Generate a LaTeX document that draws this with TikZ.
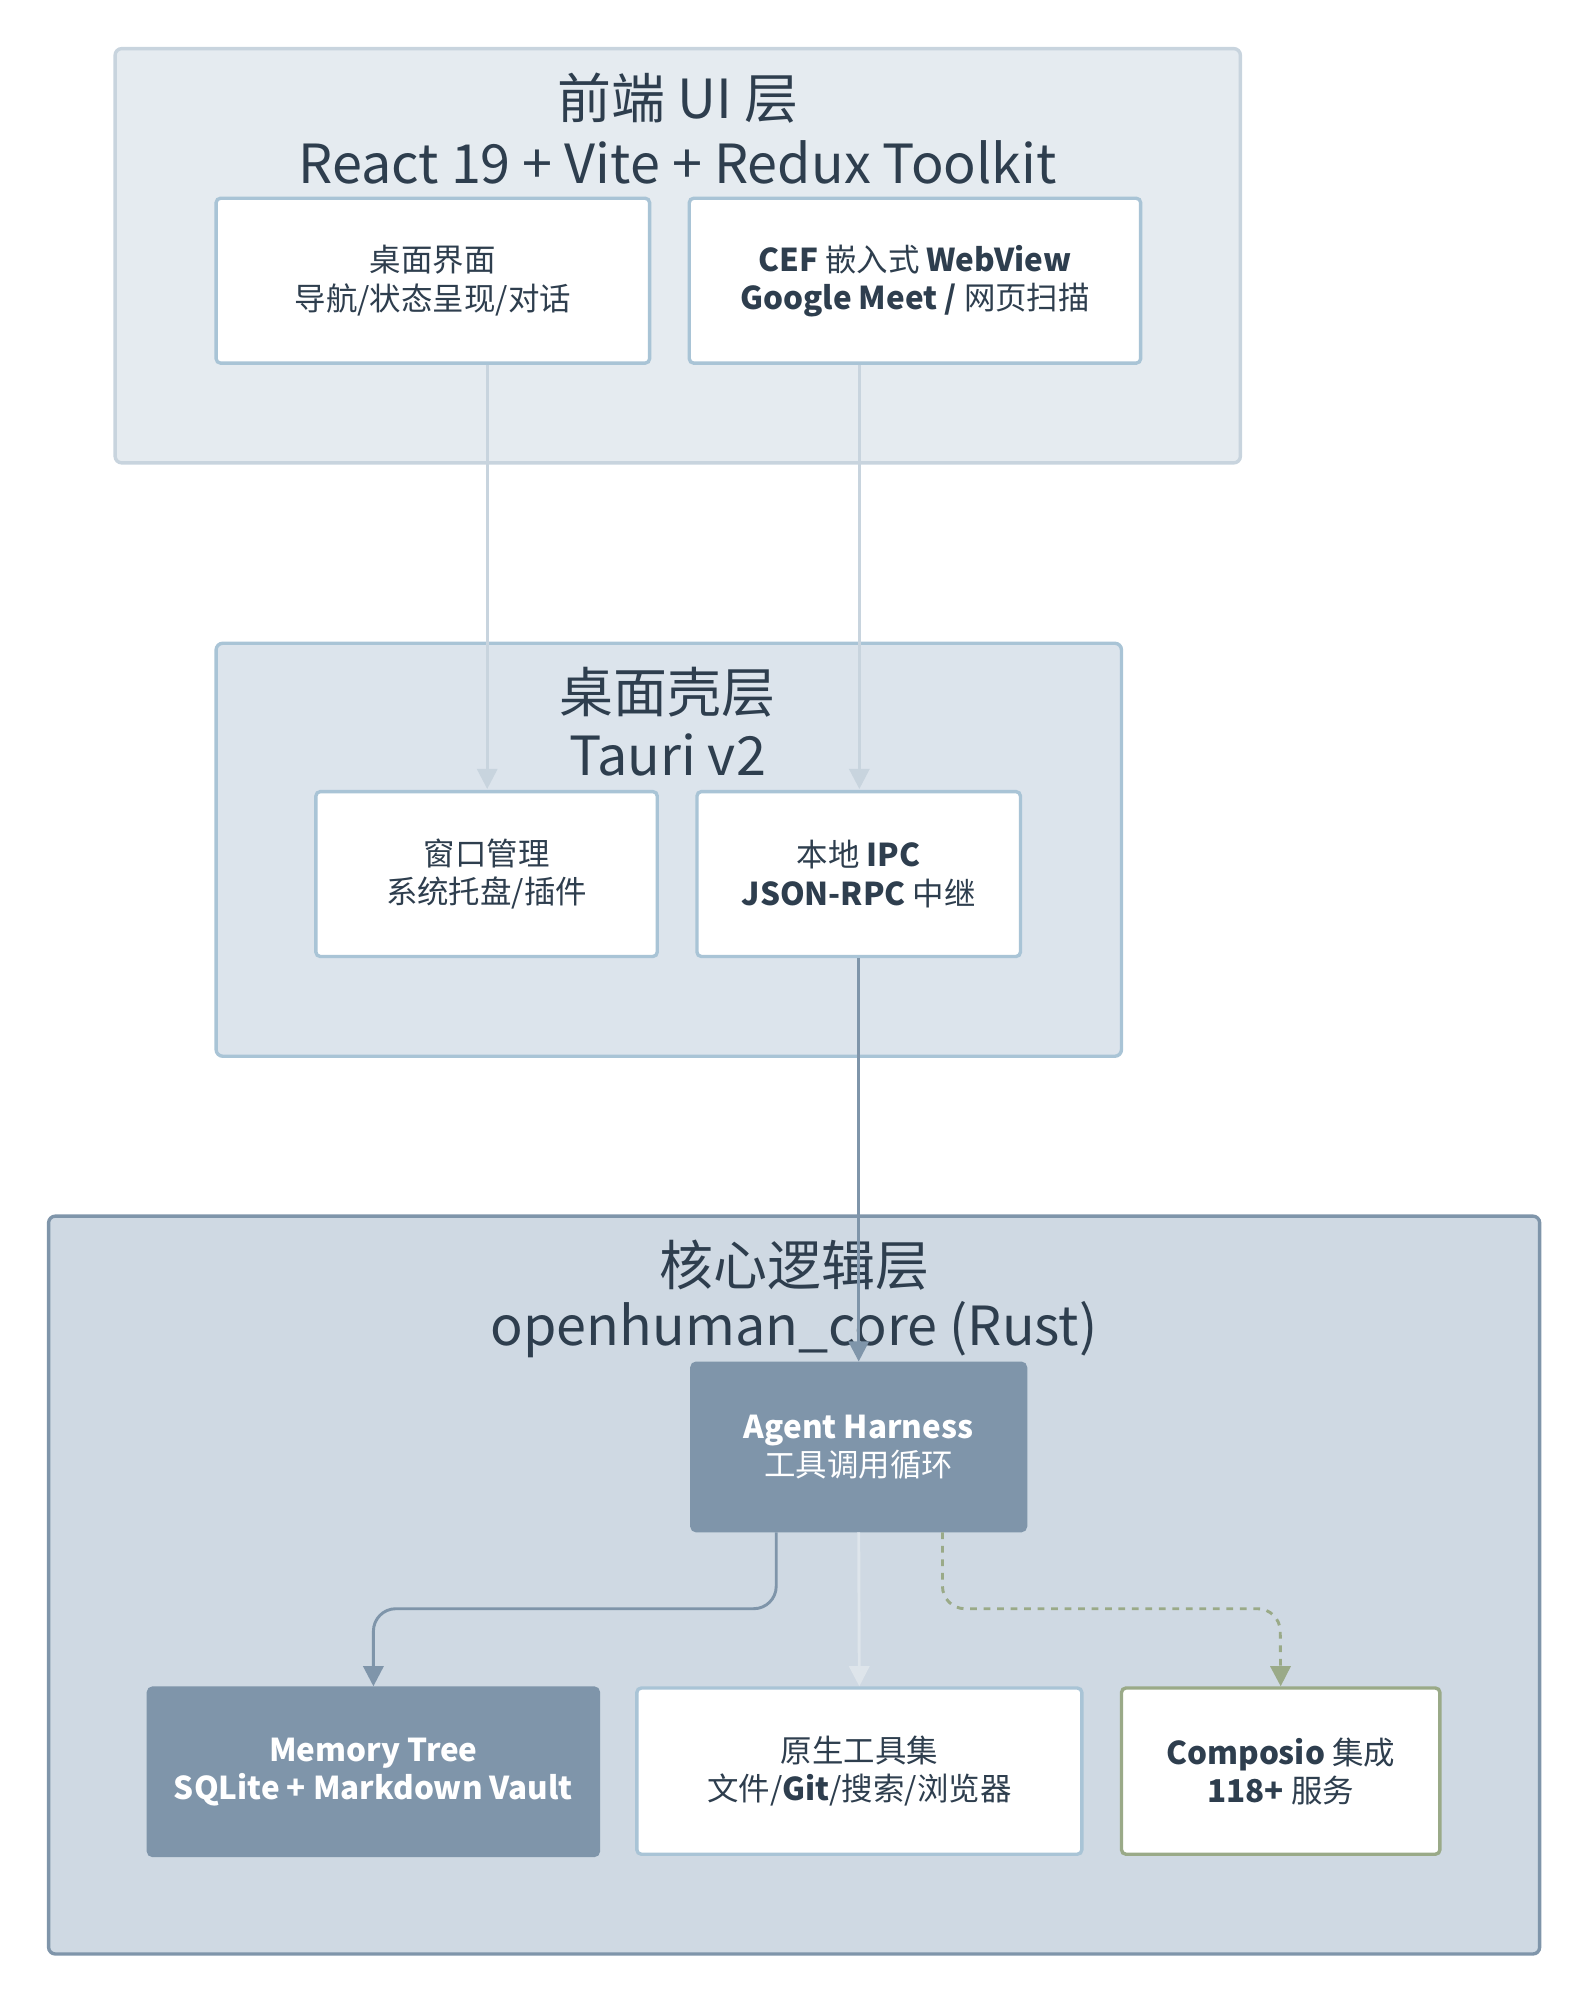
\documentclass[tikz,border=0pt]{standalone}
\usepackage{fontspec}
\setmainfont{Noto Sans CJK SC}
\usetikzlibrary{arrows.meta}
\definecolor{grpa}{HTML}{E5EBF0}
\definecolor{grpb}{HTML}{DCE4EC}
\definecolor{grpc}{HTML}{CFD9E3}
\definecolor{edgel}{HTML}{C8D4DE}
\definecolor{edgem}{HTML}{A9C4D6}
\definecolor{slate}{HTML}{7F95AA}
\definecolor{olive}{HTML}{9AAA88}
\definecolor{ink}{HTML}{2E3E4E}
\tikzset{
  grp/.style={draw, rounded corners=3pt, line width=1.5pt},
  box/.style={draw=edgem, fill=white, line width=1.5pt, rounded corners=2pt, align=center, text=ink, font=\fontsize{14}{17}\selectfont},
  dark/.style={box, draw=slate, fill=slate, text=white, font=\fontsize{14}{17}\selectfont\bfseries},
  ttl/.style={text=ink, font=\fontsize{24}{28}\selectfont},
  link/.style={-{Triangle[length=9pt,width=9pt]}, line width=1.3pt}
}
\begin{document}
\begin{tikzpicture}[x=0.02cm,y=-0.02cm]
\useasboundingbox (0,0) rectangle (1240,1564);
% groups
\draw[grp, draw=edgel, fill=grpa] (90,38) rectangle (970,362);
\draw[grp, draw=edgem, fill=grpb] (169,503) rectangle (877,826);
\draw[grp, draw=slate, fill=grpc] (38,951) rectangle (1204,1528);
\node[ttl] (t1) at (530,77) {前端 UI 层};
\node[ttl] (s1) at (530,127) {React 19 + Vite + Redux Toolkit};
\node[ttl] (t2) at (522,541) {桌面壳层};
\node[ttl] (s2) at (522,590) {Tauri v2};
\node[ttl] (t3) at (621,989) {核心逻辑层};
\node[ttl] (s3) at (621,1040) {openhuman\_core (Rust)};
% nodes
\node[box, minimum width=339*0.02cm, minimum height=129*0.02cm] (ui) at (338.5,219.5) {桌面界面\\导航/状态呈现/对话};
\node[box, minimum width=353*0.02cm, minimum height=129*0.02cm] (cef) at (715.5,219.5) {\textbf{CEF} 嵌入式 \textbf{WebView}\\\textbf{Google Meet /} 网页扫描};
\node[box, minimum width=267*0.02cm, minimum height=129*0.02cm] (win) at (380.5,683.5) {窗口管理\\系统托盘/插件};
\node[box, minimum width=253*0.02cm, minimum height=129*0.02cm] (ipc) at (671.5,683.5) {本地 \textbf{IPC}\\\textbf{JSON-RPC} 中继};
\node[dark, minimum width=261*0.02cm, minimum height=131*0.02cm] (agent) at (671.5,1131.5) {Agent Harness\\\mdseries 工具调用循环};
\node[dark, minimum width=352*0.02cm, minimum height=131*0.02cm] (mem) at (292,1385.5) {Memory Tree\\SQLite + Markdown Vault};
\node[box, minimum width=348*0.02cm, minimum height=130*0.02cm] (tools) at (672,1385) {原生工具集\\文件/\textbf{Git}/搜索/浏览器};
\node[box, draw=olive, minimum width=249*0.02cm, minimum height=130*0.02cm] (comp) at (1001.5,1385) {\textbf{Composio} 集成\\\textbf{118+} 服务};
% connectors
\draw[link, edgel] (ui.south -| 381,0) -- (381,617);
\draw[link, edgel] (cef.south -| 672,0) -- (672,617);
\draw[link, slate] (ipc.south) -- (agent.north);
\draw[link, slate, rounded corners=10pt] (agent.south -| 607,0) -- (607,1258) -- (292,1258) -- (mem.north);
\draw[link, edgel!60] (agent.south) -- (tools.north);
\draw[link, olive, dashed, rounded corners=10pt] (agent.south -| 737,0) -- (737,1258) -- (1001,1258) -- (comp.north);
\end{tikzpicture}
\end{document}
